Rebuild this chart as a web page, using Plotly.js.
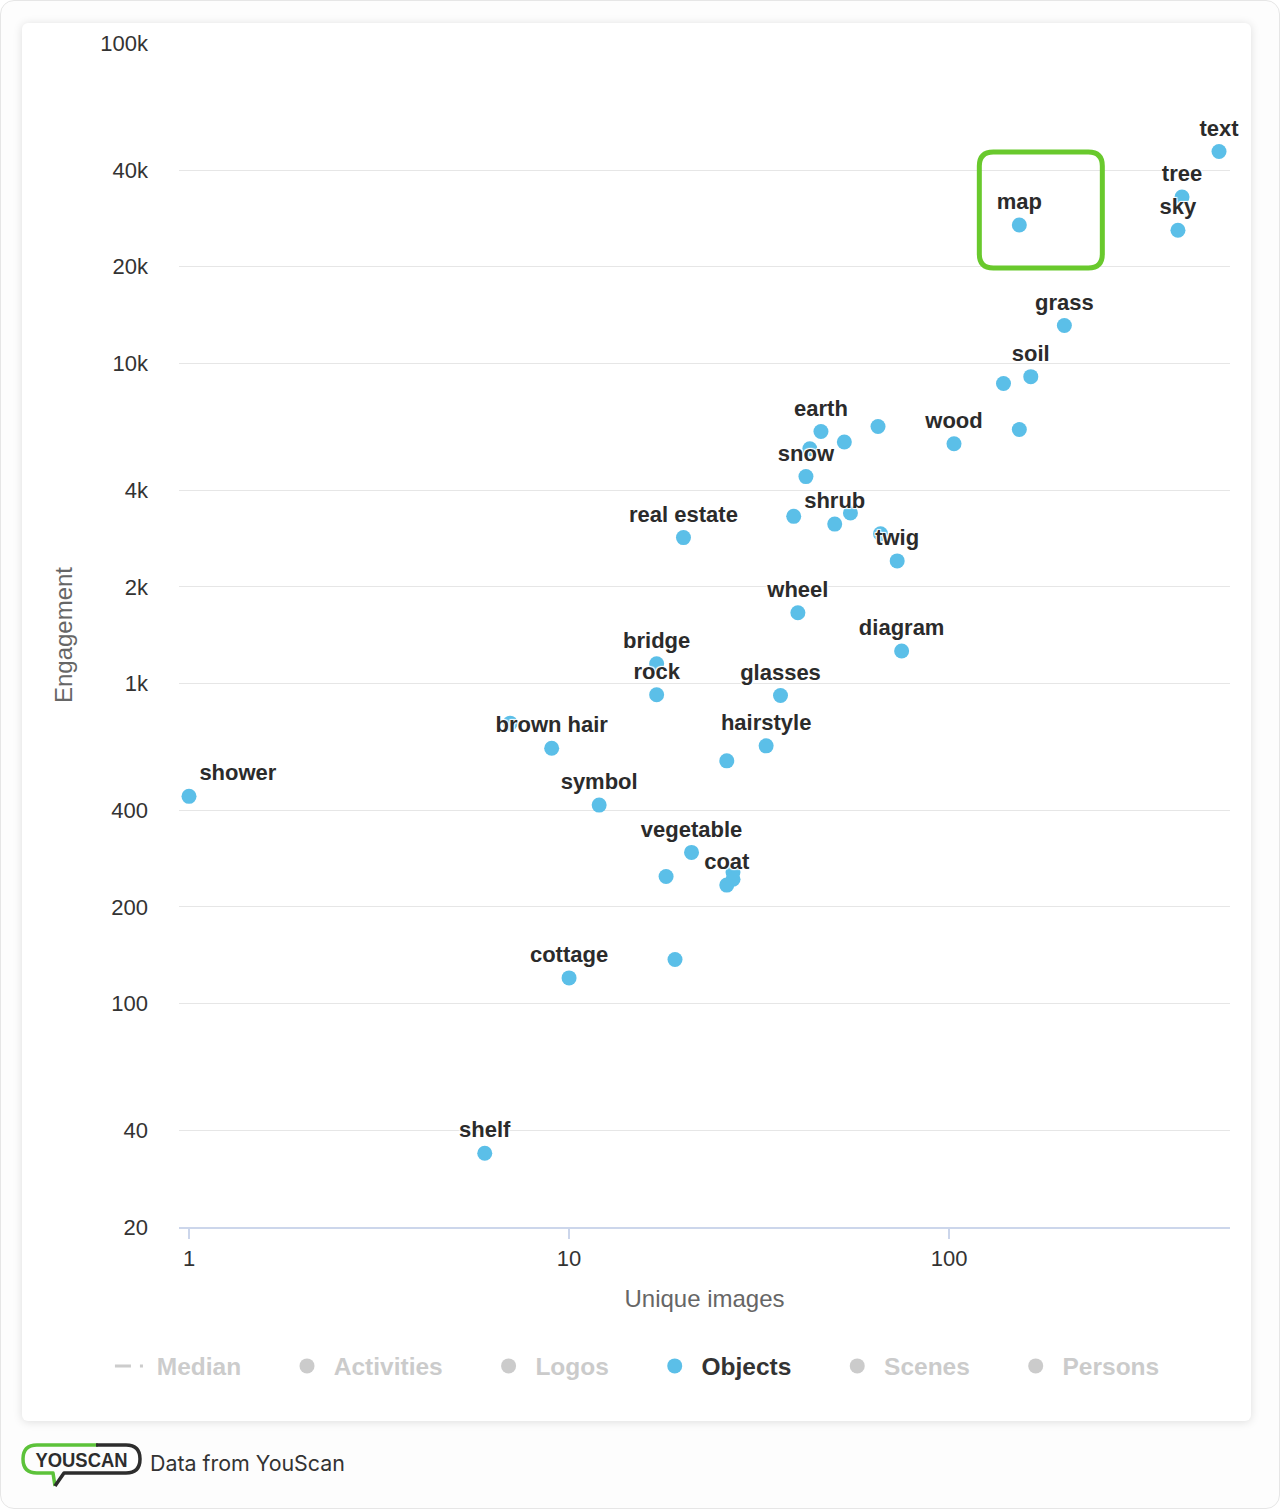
<!DOCTYPE html>
<html>
<head>
<meta charset="utf-8">
<script src="https://cdn.plot.ly/plotly-3.0.1.min.js"></script>
<style>
html,body{margin:0;padding:0;background:#fff;}
body{position:relative;width:1280px;height:1509px;overflow:hidden;}
#frame{position:absolute;left:0;top:0;width:1280px;height:1509px;box-sizing:border-box;border:1px solid #e6e6e6;border-radius:14px;background:#fdfdfd;}
#card{position:absolute;left:22px;top:23px;width:1229px;height:1398px;background:#fff;border-radius:6px;box-shadow:0 1px 10px rgba(0,0,0,0.13);}
#chart{position:absolute;left:0;top:0;width:1280px;height:1430px;}
#footer{position:absolute;left:20px;top:1440px;height:50px;display:flex;align-items:center;}
#footer .src{font-family:Inter,"Noto Sans",sans-serif;font-size:21.4px;color:#333;margin-left:6px;margin-top:-5px;}
</style>
</head>
<body>
<div id="frame"></div>
<div id="card"></div>
<div id="chart"></div>
<div id="footer">
  <svg width="124" height="50" viewBox="0 0 124 50">
    <path d="M 78 5 L 17 5 Q 3 5 3 19 Q 3 33 17 33 L 33 33 L 35 46" fill="none" stroke="#5cc23a" stroke-width="3.5" stroke-linejoin="round"/>
    <path d="M 76 5 L 106 5 Q 120 5 120 19 Q 120 33 106 33 L 44 33 L 35 46" fill="none" stroke="#2d2d2d" stroke-width="3.5" stroke-linejoin="round"/>
    <text x="61.5" y="27" text-anchor="middle" font-family="Liberation Sans, Arial, sans-serif" font-weight="bold" font-size="20" fill="#2d2d2d" textLength="92" lengthAdjust="spacingAndGlyphs">YOUSCAN</text>
  </svg>
  <span class="src">Data from YouScan</span>
</div>
<script>
// ---- data ----
const labels = ["text","tree","sky","map","grass","soil","","","wood","","earth","","","snow","","","shrub","","twig","real estate","wheel","diagram","bridge","rock","glasses","","brown hair","hairstyle","","shower","symbol","vegetable","","","","coat","cottage","","shelf"];
const uniqueImages = [513,410,400,153,201,164,139,153,103,65,46,53,43,42,39,55,50,66,73,20,40,75,17,17,36,7,9,33,26,1,12,21,18,27,27,26,10,19,6];
const engagement = [45800,33000,26000,27000,13100,9070,8630,6200,5600,6340,6110,5670,5400,4420,3320,3400,3140,2930,2410,2850,1660,1260,1150,920,915,750,626,637,572,443,416,296,249,257,244,234,120,137,34];
const yTickVals = [20,40,100,200,400,1000,2000,4000,10000,20000,40000,100000];
const yTickText = ["20","40","100","200","400","1k","2k","4k","10k","20k","40k","100k"];
const xTickVals = [1,10,100];
const xTickText = ["1","10","100"];
const legendSeries = ["Median","Activities","Logos","Objects","Scenes","Persons"];
const highlighted = "map";

const FONT = "Liberation Sans, Arial, Helvetica, sans-serif";
const blue = "#5bbfe8";
const inactive = "#999999";
const NB = "\u00a0";
const padName = (s, last) => NB + s + (last ? "" : NB.repeat(6));

const positions = labels.map(l => l === "shower" ? "top right" : "top center");

const traces = [];
legendSeries.forEach((name, i) => {
  const last = i === legendSeries.length - 1;
  if (name === "Objects") {
    traces.push({
      type: "scatter", mode: "markers+text", name: padName("Objects", last),
      x: uniqueImages, y: engagement, text: labels,
      textposition: positions, cliponaxis: false,
      marker: {color: blue, size: 15},
      textfont: {family: FONT, size: 22, weight: "bold", color: "#2b2b2b",
        shadow: "1px 1px 1px #fff, -1px -1px 1px #fff, 1px -1px 1px #fff, -1px 1px 1px #fff"},
      hoverinfo: "x+y+text"
    });
  } else if (name === "Median") {
    traces.push({
      type: "scatter", mode: "lines", name: '<span style="color:' + inactive + '">' + padName(name, last) + '</span>',
      x: [null], y: [null], visible: "legendonly",
      line: {color: inactive, width: 3, dash: "16px,9px,3px,9px"}
    });
  } else {
    traces.push({
      type: "scatter", mode: "markers", name: '<span style="color:' + inactive + '">' + padName(name, last) + '</span>',
      x: [null], y: [null], visible: "legendonly",
      marker: {color: inactive, size: 15}
    });
  }
});

const hiIdx = labels.indexOf(highlighted);

const layout = {
  width: 1280, height: 1430,
  margin: {l: 179, r: 50, t: 43, b: 203},
  paper_bgcolor: "rgba(0,0,0,0)",
  plot_bgcolor: "rgba(0,0,0,0)",
  font: {family: FONT, color: "#333"},
  showlegend: true,
  legend: {
    orientation: "h", x: -0.0657, xanchor: "left", y: -0.1174, yanchor: "middle",
    font: {family: FONT, size: 24.5, weight: "bold", color: "#333"},
    itemclick: false, itemdoubleclick: false
  },
  xaxis: {
    type: "log", range: [-0.0263, 2.739],
    tickvals: xTickVals, ticktext: xTickText,
    showgrid: false, zeroline: false,
    showline: true, linecolor: "#ccd6eb", linewidth: 1.5,
    ticks: "outside", ticklen: 10, tickwidth: 1.5, tickcolor: "#ccd6eb",
    tickfont: {size: 22, color: "#333"}, ticklabelstandoff: 1,
    title: {text: "Unique images", font: {size: 24, color: "#666"}, standoff: 20},
    automargin: false
  },
  yaxis: {
    type: "log", range: [Math.log10(20), 5],
    tickvals: yTickVals, ticktext: yTickText,
    showgrid: true, gridcolor: "#e6e6e6", gridwidth: 1,
    zeroline: false, showline: false, ticks: "",
    tickfont: {size: 22, color: "#333"}, ticklabelstandoff: 30,
    title: {text: "Engagement", font: {size: 24, color: "#666"}, standoff: 20},
    automargin: false
  },
  shapes: [{
    type: "path", xref: "x", yref: "y",
    xsizemode: "pixel", ysizemode: "pixel",
    xanchor: uniqueImages[hiIdx], yanchor: engagement[hiIdx],
    path: "M -26,73 L 69,73 Q 83,73 83,59 L 83,-29 Q 83,-43 69,-43 L -26,-43 Q -40,-43 -40,-29 L -40,59 Q -40,73 -26,73 Z",
    line: {color: "#69c92d", width: 5}, fillcolor: "rgba(0,0,0,0)"
  }]
};

Plotly.newPlot("chart", traces, layout, {displayModeBar: false, staticPlot: true});
</script>
</body>
</html>
